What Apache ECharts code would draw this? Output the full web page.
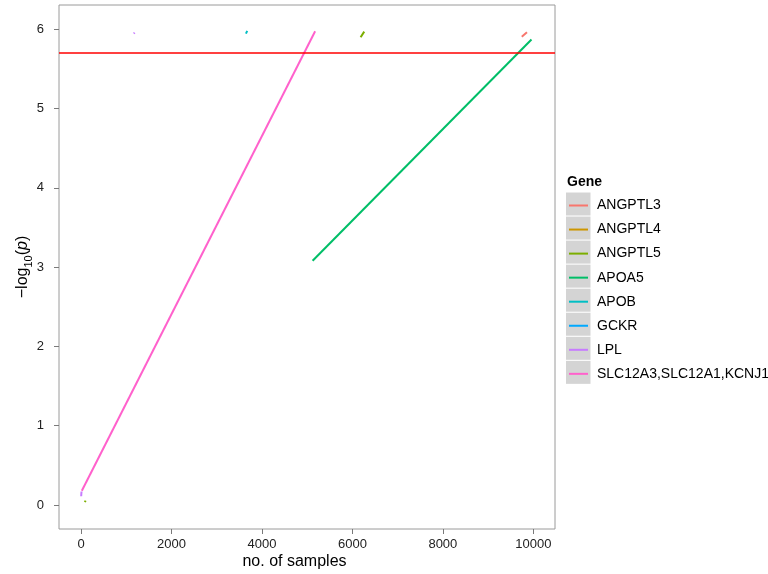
<!DOCTYPE html>
<html>
<head>
<meta charset="utf-8">
<script src="https://cdn.jsdelivr.net/npm/echarts@6/dist/echarts.min.js"></script>
<style>html,body{margin:0;padding:0;background:#fff;}#c{width:768px;height:574px;}</style>
</head>
<body>
<div id="c"></div>
<script>
// ---- data ----
const genes = ['ANGPTL3','ANGPTL4','ANGPTL5','APOA5','APOB','GCKR','LPL','SLC12A3,SLC12A1,KCNJ1'];
const ANGPTL3 = [[[9745,5.905],[9860,5.962]]];
const ANGPTL4 = [[]];
const ANGPTL5 = [[[82,0.035],[98,0.055]], [[6181,5.90],[6261,5.97]]];
const APOA5 = [[[5119,3.08],[9960,5.87]]];
const APOB = [[[3644,5.945],[3673,5.98]]];
const GCKR = [[]];
const LPL = [[[1165,5.945],[1182,5.958]], [[0,0.11],[8,0.17]]];
const SLC = [[[15,0.18],[5175,5.975]]];
const geneSegments = [ANGPTL3, ANGPTL4, ANGPTL5, APOA5, APOB, GCKR, LPL, SLC];
const threshold = 5.7;
const xTicks = [0,2000,4000,6000,8000,10000];
const yTicks = [0,1,2,3,4,5,6];

// ---- style ----
const palette = ['#F8766D','#CD9600','#7CAE00','#00BE67','#00BFC4','#00A9FF','#C77CFF','#FF61CC'];
const FONT = 'Liberation Sans, Arial, sans-serif';

const series = [];
series.push({
  type: 'line', data: [], symbol: 'none', z: 1,
  markLine: {
    silent: true, symbol: ['none','none'], animation: false,
    label: { show: false },
    lineStyle: { color: '#FF0000', type: 'solid', width: 1.6 },
    data: [{ yAxis: threshold }]
  }
});
genes.forEach((g, gi) => {
  geneSegments[gi].forEach(seg => {
    series.push({
      name: g, type: 'line', data: seg, symbol: 'none', showSymbol: false, z: 3,
      lineStyle: { color: palette[gi], width: 2 },
      itemStyle: { color: palette[gi] },
      emphasis: { disabled: true }
    });
  });
});

const graphics = [];
for (let i = 0; i < genes.length; i++) {
  graphics.push({
    type: 'rect', left: 566, top: 192.5 + i * 24.05, z: 0,
    shape: { width: 24.5, height: 23 },
    style: { fill: '#d4d4d4' }
  });
}
graphics.push({
  type: 'text', left: 567, top: 175,
  style: { text: 'Gene', fontFamily: FONT, fontSize: 14, fontWeight: 'bold', fill: '#000' }
});
graphics.push({
  type: 'text', x: 23, y: 267, rotation: Math.PI / 2,
  style: {
    text: '{a|−log}{s|10}{a|(}{i|p}{a|)}',
    align: 'center', verticalAlign: 'middle',
    fill: '#000', fontFamily: FONT, fontSize: 16,
    rich: {
      a: { fontFamily: FONT, fontSize: 16, lineHeight: 22, fill: '#000' },
      s: { fontFamily: FONT, fontSize: 11, lineHeight: 12, verticalAlign: 'bottom', fill: '#000' },
      i: { fontFamily: FONT, fontSize: 16, lineHeight: 22, fontStyle: 'italic', fill: '#000' }
    }
  }
});
graphics.push({
  type: 'text', x: 294.5, y: 562,
  style: { text: 'no. of samples', align: 'center', verticalAlign: 'middle', fontFamily: FONT, fontSize: 16, fill: '#000' }
});

const chart = echarts.init(document.getElementById('c'), null, { renderer: 'canvas' });
chart.setOption({
  animation: false,
  backgroundColor: '#fff',
  grid: { left: 59, right: 213, top: 5, bottom: 45, show: true, borderColor: '#9a9a9a', borderWidth: 1, backgroundColor: '#fff', containLabel: false },
  xAxis: {
    type: 'value', min: -490, max: 10480,
    axisLine: { show: false, onZero: false },
    splitLine: { show: false },
    axisTick: { show: true, length: 5, lineStyle: { color: '#7a7a7a' }, customValues: xTicks },
    axisLabel: { customValues: xTicks, margin: 9, fontFamily: FONT, fontSize: 13, color: '#222', formatter: v => String(v) }
  },
  yAxis: {
    type: 'value', min: -0.303, max: 6.306,
    axisLine: { show: false, onZero: false },
    splitLine: { show: false },
    axisTick: { show: true, length: 5, lineStyle: { color: '#7a7a7a' }, customValues: yTicks },
    axisLabel: { customValues: yTicks, margin: 15, fontFamily: FONT, fontSize: 13, color: '#222', formatter: v => String(v) }
  },
  legend: {
    data: genes, orient: 'vertical', left: 569, top: 198.5, padding: 0,
    itemWidth: 19, itemHeight: 14, itemGap: 10.05,
    icon: 'path://M0,0 L19,0 L19,2 L0,2 Z',
    selectedMode: false,
    textStyle: { fontFamily: FONT, fontSize: 14, lineHeight: 14, color: '#000', padding: [0,0,0,4] }
  },
  graphic: graphics,
  series: series
});
</script>
</body>
</html>
